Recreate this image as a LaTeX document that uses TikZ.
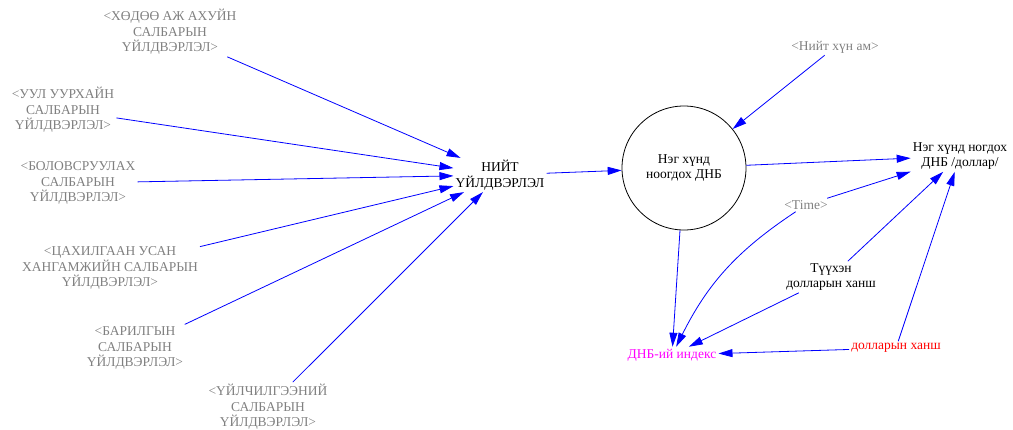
\documentclass[tikz,border=0pt]{standalone}
\usepackage{fontspec}
\setmainfont{Liberation Serif}
\usetikzlibrary{arrows.meta}

\definecolor{shadowgray}{RGB}{128,128,128}
\definecolor{linkblue}{RGB}{0,0,255}
\definecolor{fxred}{RGB}{255,0,0}
\definecolor{indexmagenta}{RGB}{255,0,255}

\begin{document}
\begin{tikzpicture}[
        x=1pt, y=-1pt,
        every node/.style={align=center, inner sep=2pt,
            font=\fontsize{13.5}{15.5}\selectfont},
        var/.style={text=black},
        shadow/.style={text=shadowgray},
        stock/.style={circle, draw=black, line width=0.8pt,
            minimum size=124pt, inner sep=0pt},
        arr/.style={-{Triangle[length=14pt, width=8pt]}, draw=linkblue, line width=0.8pt},
    ]
    \useasboundingbox (0,0) rectangle (1013,430);

    % sector outputs (shadow variables)
    \node (agri)   [shadow] at (170,32)  {<ХӨДӨӨ АЖ АХУЙН\\САЛБАРЫН\\ҮЙЛДВЭРЛЭЛ>};
    \node (mining) [shadow] at (63,110)  {<УУЛ УУРХАЙН\\САЛБАРЫН\\ҮЙЛДВЭРЛЭЛ>};
    \node (manuf)  [shadow] at (78,183)  {<БОЛОВСРУУЛАХ\\САЛБАРЫН\\ҮЙЛДВЭРЛЭЛ>};
    \node (energy) [shadow] at (110,268) {<ЦАХИЛГААН УСАН\\ХАНГАМЖИЙН САЛБАРЫН\\ҮЙЛДВЭРЛЭЛ>};
    \node (constr) [shadow] at (135,348) {<БАРИЛГЫН\\САЛБАРЫН\\ҮЙЛДВЭРЛЭЛ>};
    \node (serv)   [shadow] at (268,407) {<ҮЙЛЧИЛГЭЭНИЙ\\САЛБАРЫН\\ҮЙЛДВЭРЛЭЛ>};

    \node (total)  [var] at (500,175) {НИЙТ\\ҮЙЛДВЭРЛЭЛ};
    \node (gdp)    [stock] at (684,168) {Нэг хүнд\\ноогдох ДНБ};
    \node (pop)    [shadow] at (835,47)  {<Нийт хүн ам>};
    \node (percap) [var] at (960,156) {Нэг хүнд ногдох\\ДНБ /доллар/};
    \node (time)   [shadow] at (806,205) {<Time>};
    \node (histfx) [var] at (831,277) {Түүхэн\\долларын ханш};
    \node (fx)     [text=fxred] at (896,348) {долларын ханш};
    \node (index)  [text=indexmagenta] at (672,355) {ДНБ-ий индекс};

    \draw [arr] (agri)   -- (total);
    \draw [arr] (mining) -- (total);
    \draw [arr] (manuf)  -- (total);
    \draw [arr] (energy) -- (total);
    \draw [arr] (constr) -- (total);
    \draw [arr] (serv)   -- (total);
    \draw [arr] (total)  -- (gdp);
    \draw [arr] (pop)    -- (gdp);
    \draw [arr] (gdp)    -- (percap);
    \draw [arr] (time)   -- (percap);
    \draw [arr] (histfx) -- (percap);
    \draw [arr] (fx)     -- (percap);
    \draw [arr] (gdp)    -- (index);
    \draw [arr] (time)   to[bend right=15] (index);
    \draw [arr] (histfx) -- (index);
    \draw [arr] (fx)     -- (index);

\end{tikzpicture}
\end{document}
